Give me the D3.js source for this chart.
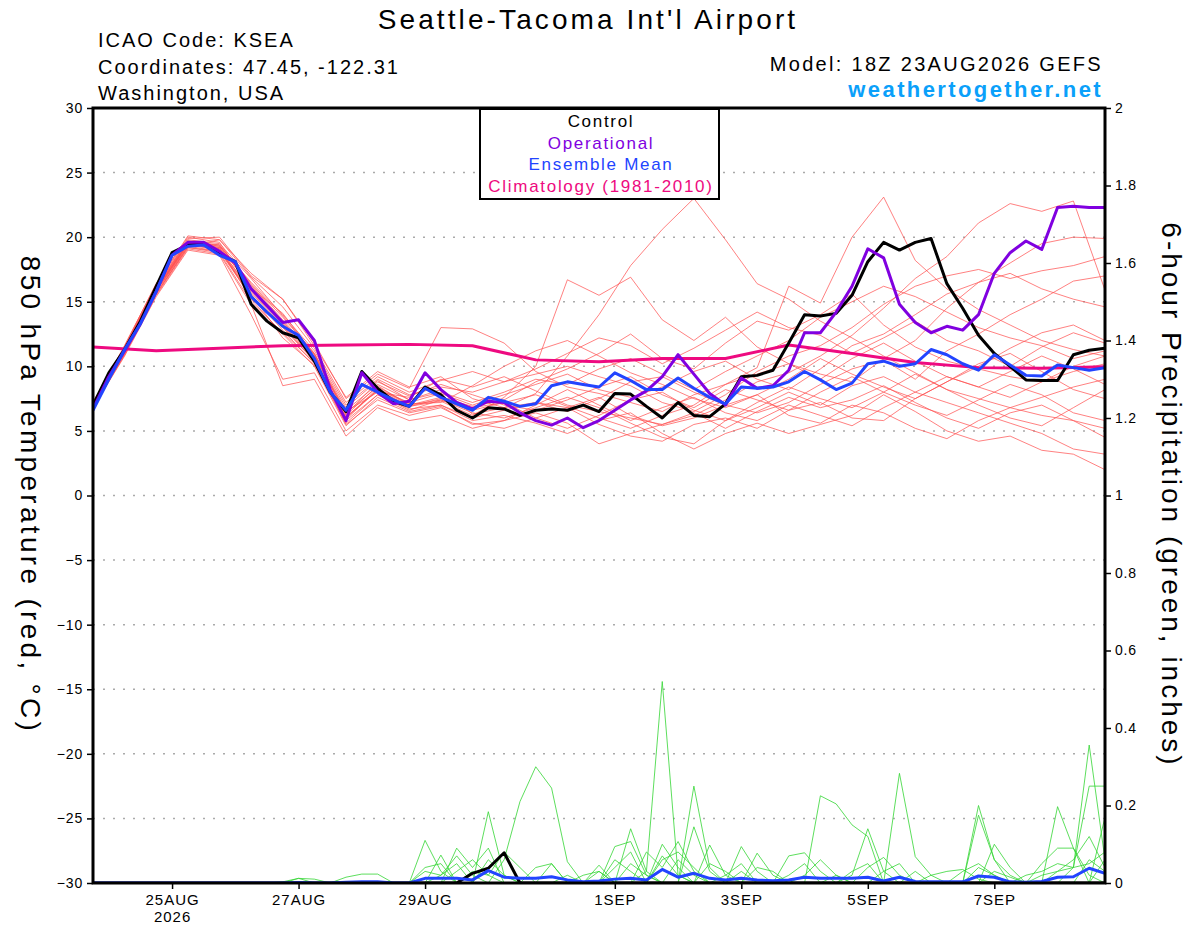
<!DOCTYPE html>
<html>
<head>
<meta charset="utf-8">
<script src="https://cdn.jsdelivr.net/npm/d3@7"></script>
<style>
  body { margin: 0; background: #fff; }
  text { font-family: "Liberation Sans", Arial, Helvetica, sans-serif; }
</style>
</head>
<body>
<svg id="chart" width="1200" height="927"></svg>
<script>
// ---- data ----
// run start 18Z 23AUG2026, 6-hourly steps out to 384 h
const runStart = Date.UTC(2026, 7, 23, 18);
const dateTicks = ["2026-08-25", "2026-08-27", "2026-08-29", "2026-09-01", "2026-09-03", "2026-09-05", "2026-09-07"];
const tempTicks = [-30, -25, -20, -15, -10, -5, 0, 5, 10, 15, 20, 25, 30];
const precipTicks = [0, 0.2, 0.4, 0.6, 0.8, 1, 1.2, 1.4, 1.6, 1.8, 2];

// 850 hPa temperature, 6-hourly
const controlTemp = [7.0, 9.5, 11.3, 13.5, 16.2, 18.8, 19.4, 19.5, 18.7, 18.1,
  14.8, 13.5, 12.6, 12.2, 10.4, 8.0, 6.5, 9.6, 8.3, 7.3,
  6.9, 8.4, 7.8, 6.6, 6.0, 6.8, 6.7, 6.2, 6.6, 6.7,
  6.6, 7.0, 6.5, 7.9, 7.85, 6.9, 6.0, 7.2, 6.2, 6.1,
  7.1, 9.2, 9.3, 9.7, 11.8, 14.0, 13.9, 14.1, 15.5, 18.1,
  19.6, 19.0, 19.6, 19.9, 16.4, 14.5, 12.4, 11.0, 10.0, 8.95,
  8.9, 8.9, 10.9, 11.25, 11.4];
const operationalTemp = [6.7, 9.2, 11.2, 13.3, 15.8, 18.6, 19.6, 19.6, 18.9, 18.0,
  16.0, 14.7, 13.4, 13.6, 12.0, 8.2, 5.8, 9.5, 8.0, 7.1,
  7.3, 9.5, 8.2, 7.2, 6.7, 7.3, 7.2, 6.4, 5.8, 5.45,
  6.0, 5.25, 5.8, 6.6, 7.4, 8.1, 9.2, 10.9, 9.4, 7.9,
  7.0, 9.1, 8.3, 8.5, 9.7, 12.6, 12.6, 14.2, 16.2, 19.1,
  18.4, 14.8, 13.4, 12.6, 13.1, 12.8, 14.0, 17.2, 18.8, 19.7,
  19.05, 22.3, 22.4, 22.3, 22.3];
const meanTemp = [6.6, 9.0, 11.3, 13.3, 15.8, 18.6, 19.3, 19.4, 18.6, 18.1,
  15.4, 14.2, 13.1, 12.4, 10.6, 8.0, 6.6, 8.6, 8.0, 7.4,
  6.9, 8.3, 7.6, 7.1, 6.6, 7.6, 7.3, 6.9, 7.1, 8.5,
  8.8, 8.6, 8.4, 9.5, 8.9, 8.2, 8.2, 9.1, 8.3, 7.6,
  7.1, 8.4, 8.3, 8.4, 8.8, 9.6, 8.95, 8.2, 8.7, 10.2,
  10.4, 10.0, 10.2, 11.3, 10.9, 10.2, 9.7, 10.9, 10.1, 9.3,
  9.25, 10.1, 9.9, 9.7, 9.9];
// climatology, daily
const climTemp = [11.5, 11.2, 11.4, 11.6, 11.65, 11.7, 11.6, 10.5, 10.35, 10.6, 10.6, 11.65, 11.0, 10.3, 9.9, 9.85, 9.97];

// ensemble members, 12-hourly
const memberTemps = [
  [7.1,11.5,16.2,19.8,19.5,16.8,13.9,11.0,6.8,8.9,7.4,8.2,6.3,6.8,7.9,10.8,14.0,17.8,20.6,23.0,19.8,16.4,15.2,13.5,12.2,10.8,9.5,8.2,7.5,6.8,6.2,5.8,5.2],
  [6.9,11.0,15.6,19.3,19.8,17.2,15.2,11.8,7.5,9.4,8.3,13.0,12.9,11.8,9.6,8.4,7.9,7.2,6.5,7.8,8.6,9.9,16.2,14.9,20.0,23.1,18.2,16.0,14.4,13.2,12.0,11.3,10.8],
  [7.0,11.3,16.0,19.5,19.0,15.5,12.8,10.2,5.9,8.2,6.9,7.3,6.2,7.6,10.0,16.7,15.5,16.9,13.6,12.0,13.8,11.5,10.2,9.4,8.8,10.6,12.0,14.5,16.5,18.0,19.5,20.0,19.9],
  [7.2,11.6,16.4,20.0,19.6,16.0,13.4,10.8,6.5,8.0,7.6,9.0,8.4,9.2,8.1,7.0,6.5,6.0,5.5,6.2,7.4,8.8,9.5,10.8,12.4,14.5,16.8,18.5,21.1,22.6,22.0,22.8,15.9],
  [6.8,10.8,15.4,19.0,18.6,14.0,9.0,9.5,5.0,7.0,6.2,6.8,5.6,5.2,6.0,6.8,5.5,4.6,4.2,5.5,6.0,5.2,6.6,7.2,6.0,5.8,7.5,8.8,10.2,11.0,9.6,8.2,7.5],
  [7.1,11.4,16.1,19.7,19.3,16.5,14.0,11.2,7.0,9.0,7.8,8.4,8.0,8.8,9.4,10.0,9.2,8.5,7.2,6.5,7.8,9.6,10.8,11.6,13.0,14.8,16.2,17.0,17.5,16.8,17.4,17.8,18.5],
  [6.9,11.1,15.8,19.4,19.2,15.2,12.5,10.0,5.4,7.6,6.5,7.0,5.8,6.2,5.6,4.8,5.8,6.4,4.8,3.6,4.8,5.6,4.8,5.5,6.2,7.8,6.5,5.0,4.2,4.6,3.5,3.2,2.0],
  [7.0,11.2,15.9,19.5,19.4,16.3,13.6,10.9,6.2,8.5,7.0,7.6,6.9,7.4,8.8,9.8,11.0,12.5,10.6,9.8,11.8,13.5,12.8,14.0,15.6,13.2,11.5,10.4,9.8,9.2,8.8,9.6,10.2],
  [7.2,11.5,16.3,19.9,20.0,17.0,15.2,11.6,7.6,9.6,8.4,9.2,7.5,6.8,7.2,6.5,7.5,8.8,9.2,8.0,7.0,6.4,7.2,8.6,9.8,10.5,9.0,11.2,12.5,14.0,15.2,16.6,17.0],
  [6.8,10.9,15.5,19.1,18.7,14.8,8.5,9.0,4.6,6.8,5.8,6.2,5.2,5.8,6.4,5.6,4.0,4.8,5.5,6.4,5.2,6.5,7.6,6.8,7.4,8.5,7.2,6.0,5.2,6.4,7.0,5.8,4.5],
  [7.0,11.3,16.0,19.6,19.1,15.8,13.2,10.5,6.0,8.2,7.2,7.9,7.0,7.8,8.6,9.4,8.2,7.6,8.4,9.6,10.4,9.0,8.2,9.8,11.6,12.5,14.0,15.6,16.5,17.2,16.0,15.2,14.6],
  [6.9,11.0,15.7,19.2,18.9,15.4,13.0,10.4,5.8,7.8,6.6,7.4,6.4,6.0,6.8,7.6,6.8,5.6,4.5,4.0,5.8,7.2,8.4,7.5,6.8,8.0,9.4,8.2,7.0,6.0,5.4,6.8,8.2],
  [7.1,11.4,16.1,19.6,19.2,16.2,13.5,10.7,6.4,8.4,7.1,7.2,8.5,10.0,11.2,12.0,10.8,9.5,8.6,7.5,6.8,7.8,9.0,10.6,9.4,8.4,7.5,8.8,10.0,11.4,12.6,13.2,12.0],
  [7.0,11.2,15.9,19.5,19.1,15.9,13.3,10.6,6.1,8.1,6.9,7.5,6.8,7.2,6.0,5.2,6.2,7.4,8.0,6.6,5.8,6.8,8.0,7.0,8.5,9.2,8.0,7.2,6.4,5.6,4.8,3.6,3.2],
  [7.2,11.6,16.4,20.1,19.8,16.9,14.6,11.4,7.2,9.2,8.0,8.9,9.6,8.8,9.8,11.0,12.2,11.6,10.2,11.4,12.8,14.2,13.0,12.4,11.0,12.2,13.5,12.0,11.2,10.0,11.5,12.6,11.8],
  [6.9,11.1,15.8,19.3,18.9,15.6,12.2,10.1,5.6,7.8,6.7,7.0,6.0,6.6,7.2,6.8,7.6,6.2,5.4,6.0,7.0,7.8,6.2,5.6,7.0,6.4,5.2,4.4,5.8,6.8,7.6,8.4,9.0],
  [7.0,11.3,16.0,19.5,19.3,16.1,14.1,10.9,6.6,8.6,7.4,8.0,7.2,8.0,9.0,8.6,9.8,10.6,9.4,8.2,9.6,10.8,12.0,13.8,15.0,16.2,15.4,14.2,13.0,12.2,11.6,10.6,11.2],
  [7.1,11.4,16.2,19.7,19.4,16.4,13.8,11.0,6.3,8.8,7.7,8.6,7.8,7.0,6.6,7.4,8.4,9.2,7.8,6.8,8.2,7.4,6.6,8.0,9.2,8.0,7.0,6.2,7.4,8.6,7.8,6.4,5.8],
  [6.8,10.9,15.6,19.2,18.8,15.0,12.6,10.3,5.5,7.4,6.4,6.9,5.5,5.8,7.0,8.2,7.0,5.8,6.8,7.6,6.4,5.8,7.0,6.2,5.4,6.8,8.0,9.2,8.4,7.6,8.8,10.0,10.8],
  [7.0,11.2,15.9,19.4,19.0,15.7,13.1,10.4,6.0,8.3,7.0,7.4,6.6,7.2,7.8,6.9,6.0,5.2,6.2,7.0,8.6,9.4,10.2,9.0,10.6,11.8,10.4,9.2,8.4,9.6,10.8,9.8,8.6]
];

// 6-hour precipitation (inches), 6-hourly
const controlPrecip = [0,0,0,0,0, 0,0,0,0,0, 0,0,0,0,0, 0,0,0,0,0,
  0,0,0,0,.025, .038,.078,0,0,0, 0,0,0,0,0, 0,0,0,0,0,
  0,0,0,0,0, 0,0,0,0,0, 0,0,0,0,0, 0,0,0,0,0, 0,0,0,0,0];
const meanPrecip = [0,0,0,0,0, 0,0,0,0,0, 0,0,0,.001,0, 0,.002,.003,.003,0,
  0,.012,.012,.012,.008, .032,.015,.012,.012,.016, .008,.003,.005,.01,.012, .008,.035,.015,.025,.012,
  .008,.012,.008,.006,.008, .015,.012,.012,.012,.015, .005,.015,.004,.003,.003, .003,.018,.015,.003,.002,
  .004,.015,.016,.038,.025];
const memberPrecips = [
  [0,0,0,0,0, 0,0,0,0,0, 0,0,0,.012,0, 0,0,0,0,0, 0,.11,.03,0,0, 0,0,0,0,0, 0,0,.046,0,0, 0,0,0,0,.098, .02,0,0,0,0, 0,0,0,0,0, 0,0,0,0,0, 0,.2,.06,0,0, 0,0,0,0,0],
  [0,0,0,0,0, 0,0,0,0,0, 0,0,0,0,0, 0,.015,.023,.023,0, 0,0,.072,0,0, .184,.02,0,0,0, 0,0,0,0,.14, .03,0,0,0,0, 0,.094,.03,0,0, 0,0,0,0,0, 0,0,0,0,0, 0,0,.10,.04,0, 0,0,0,0,0],
  [0,0,0,0,0, 0,0,0,0,0, 0,0,0,0,0, 0,0,0,0,0, 0,0,0,.09,.04, .09,0,0,0,0, 0,0,0,.094,.107, .02,0,0,0,0, 0,0,0,0,0, 0,0,0,0,0, 0,0,0,0,0, 0,.175,.06,.02,0, 0,0,0,0,.06],
  [0,0,0,0,0, 0,0,0,0,0, 0,0,0,0,0, 0,0,0,0,0, 0,.04,.05,0,0, .06,.02,0,0,0, 0,0,0,0,0, .03,.52,.02,0,0, 0,0,0,0,0, 0,0,0,.02,.14, .03,0,0,0,0, 0,0,0,0,0, .05,.09,.09,0,0],
  [0,0,0,0,0, 0,0,0,0,0, 0,0,0,0,0, 0,0,0,0,0, 0,0,0,0,0, 0,.06,.21,.30,.245, .055,0,0,0,0, 0,.10,.04,0,0, 0,0,0,0,0, 0,0,0,0,0, 0,0,0,0,0, 0,0,0,0,0, 0,.197,.09,.02,0],
  [0,0,0,0,0, 0,0,0,0,0, 0,0,0,0,0, 0,0,0,0,0, 0,0,0,0,.03, .02,.08,.04,0,.05, 0,0,.03,0,0, .08,.04,.107,.03,0, 0,0,0,0,0, 0,0,0,0,0, 0,.283,.068,.02,0, 0,0,0,0,0, 0,0,0,0,0],
  [0,0,0,0,0, 0,0,0,0,0, 0,0,0,0,0, 0,0,0,0,0, 0,.03,.02,.05,0, 0,0,0,0,0, 0,0,0,0,0, 0,0,0,.25,.04, 0,0,0,0,.07, .078,.03,0,0,0, 0,0,0,0,0, 0,0,0,0,.02, .03,.05,.04,.356,.06],
  [0,0,0,0,0, 0,0,0,0,0, 0,0,0,0,0, 0,0,0,0,0, 0,0,0,0,0, 0,0,0,.04,.05, 0,0,0,0,0, 0,0,0,.145,.03, 0,0,.077,.02,0, 0,.225,.204,.15,.12, 0,0,0,0,0, 0,0,0,0,0, 0,0,.04,.25,.25],
  [0,0,0,0,0, 0,0,0,0,0, 0,0,0,0,0, 0,0,0,0,0, 0,0,0,0,0, 0,0,0,0,0, 0,0,0,.04,.08, 0,0,.06,.02,0, 0,.03,0,0,0, .02,.06,.02,0,.04, .066,.02,0,0,0, .03,.05,.02,0,0, 0,.03,.06,.12,.04],
  [0,0,0,0,0, 0,0,0,0,0, 0,0,0,0,0, 0,0,0,0,0, 0,0,0,0,0, 0,0,0,0,0, .02,0,0,.06,.03, 0,.06,.08,.04,0, .02,.05,0,0,.02, .05,0,0,0,0, 0,0,0,.02,.03, .035,.01,0,0,0, .02,.03,.04,.05,.08],
  [0,0,0,0,0, 0,0,0,0,0, 0,0,0,0,0, 0,0,0,0,0, 0,0,0,.03,.06, .02,0,0,0,0, 0,.02,.03,0,0, 0,.07,.02,0,.05, .03,0,0,0,0, 0,0,0,.03,.05, 0,0,.03,0,0, 0,.04,.02,0,0, 0,0,0,0,.17],
  [0,0,0,0,0, 0,0,0,0,0, 0,0,.003,.012,.01, 0,0,0,0,0, 0,0,.02,.07,.02, 0,0,0,0,0, 0,0,0,0,.05, .02,0,0,0,0, 0,0,.04,.03,0, 0,0,.02,0,0, .03,.05,0,0,0, 0,0,.03,.015,0, 0,0,0,.06,.03]
];

// ---- chart ----
const svg = d3.select("#chart");
const L = 93, R = 1105, T = 108, B = 883;
const hourMs = 3600 * 1000;
const at = h => new Date(runStart + h * hourMs);

const x = d3.scaleUtc().domain([at(0), at(384)]).range([L, R]);
const yT = d3.scaleLinear().domain([-30, 30]).range([B, T]);
const yP = d3.scaleLinear().domain([0, 2]).range([B, T]);

const hours6 = d3.range(0, 385, 6);
const hours12 = d3.range(0, 385, 12);
const hours24 = d3.range(0, 385, 24);

const lineOf = (hours, yScale) => d3.line()
  .x((d, i) => x(at(hours[i])))
  .y(d => yScale(d));

svg.append("defs").append("clipPath").attr("id", "plotClip")
  .append("rect").attr("x", L).attr("y", T).attr("width", R - L).attr("height", B - T);

// dotted grid at the temperature ticks
svg.append("g").selectAll("line")
  .data(tempTicks.filter(v => v > -30 && v < 30))
  .enter().append("line")
  .attr("x1", L).attr("x2", R)
  .attr("y1", d => yT(d)).attr("y2", d => yT(d))
  .attr("stroke", "#aaa").attr("stroke-width", 1.5)
  .attr("stroke-dasharray", "2,8");

const plot = svg.append("g").attr("clip-path", "url(#plotClip)");

// ensemble members
plot.selectAll(".member")
  .data(memberTemps)
  .enter().append("path")
  .attr("class", "member")
  .attr("d", d => lineOf(hours12, yT)(d))
  .attr("fill", "none").attr("stroke", "#ff4f4f").attr("stroke-width", 0.8).attr("opacity", 0.9);

plot.selectAll(".pmember")
  .data(memberPrecips)
  .enter().append("path")
  .attr("class", "pmember")
  .attr("d", d => lineOf(hours6, yP)(d))
  .attr("fill", "none").attr("stroke", "#33d633").attr("stroke-width", 0.8);

const thick = (data, hours, yScale, color) => plot.append("path")
  .attr("d", lineOf(hours, yScale)(data))
  .attr("fill", "none").attr("stroke", color).attr("stroke-width", 3)
  .attr("stroke-linejoin", "round");

thick(climTemp, hours24, yT, "#ee0a80");
thick(controlPrecip, hours6, yP, "#000");
thick(meanPrecip, hours6, yP, "#2244ff");
thick(controlTemp, hours6, yT, "#000");
thick(operationalTemp, hours6, yT, "#8000e0");
thick(meanTemp, hours6, yT, "#2244ff");

// axes
const tickFont = g => g.selectAll("text").style("font-size", "14px")
  .style("letter-spacing", "0.8px").attr("fill", "#000");

const leftAxis = svg.append("g").attr("transform", `translate(${L},0)`)
  .call(d3.axisLeft(yT).tickValues(tempTicks).tickSize(6).tickPadding(4));
leftAxis.select(".domain").remove();
leftAxis.selectAll("line").attr("stroke-width", 1.5);
tickFont(leftAxis);

const rightAxis = svg.append("g").attr("transform", `translate(${R},0)`)
  .call(d3.axisRight(yP).tickValues(precipTicks).tickSize(6).tickPadding(4)
    .tickFormat(d => String(+d.toFixed(1))));
rightAxis.select(".domain").remove();
rightAxis.selectAll("line").attr("stroke-width", 1.5);
tickFont(rightAxis);

const fmtDay = d3.utcFormat("%-d%b");
const bottomAxis = svg.append("g").attr("transform", `translate(0,${B})`)
  .call(d3.axisBottom(x).tickValues(dateTicks.map(s => new Date(s + "T00:00:00Z")))
    .tickSize(6).tickPadding(5).tickFormat(d => fmtDay(d).toUpperCase()));
bottomAxis.select(".domain").remove();
bottomAxis.selectAll("line").attr("stroke-width", 1.5);
bottomAxis.selectAll("text").style("font-size", "15px").style("letter-spacing", "1px").attr("fill", "#000");
bottomAxis.select(".tick text").clone()
  .attr("dy", "1.85em").text("2026");

// frame
svg.append("rect").attr("x", L).attr("y", T).attr("width", R - L).attr("height", B - T)
  .attr("fill", "none").attr("stroke", "#000").attr("stroke-width", 3);

// axis titles
svg.append("text").attr("transform", "translate(21,495) rotate(90)")
  .attr("text-anchor", "middle").style("font-size", "28px").style("letter-spacing", "3.3px")
  .text("850 hPa Temperature (red, °C)");
svg.append("text").attr("transform", "translate(1162,495) rotate(90)")
  .attr("text-anchor", "middle").style("font-size", "28px").style("letter-spacing", "3px")
  .text("6-hour Precipitation (green, inches)");

// header
svg.append("text").attr("x", 588).attr("y", 29).attr("text-anchor", "middle")
  .style("font-size", "28px").style("letter-spacing", "3.1px").text("Seattle-Tacoma Int'l Airport");
const infoLines = ["ICAO Code: KSEA", "Coordinates: 47.45, -122.31", "Washington, USA"];
svg.append("g").selectAll("text").data(infoLines).enter().append("text")
  .attr("x", 98).attr("y", (d, i) => 47 + i * 26.5)
  .style("font-size", "20px").style("letter-spacing", "2px").text(d => d);
svg.append("text").attr("x", 1103).attr("y", 71).attr("text-anchor", "end")
  .style("font-size", "20px").style("letter-spacing", "2.3px").text("Model: 18Z 23AUG2026 GEFS");
svg.append("text").attr("x", 1103).attr("y", 97).attr("text-anchor", "end")
  .style("font-size", "22px").style("font-weight", "bold").style("letter-spacing", "2.4px")
  .attr("fill", "#0aa0fa").text("weathertogether.net");

// legend
const legendItems = [
  { label: "Control", color: "#000" },
  { label: "Operational", color: "#8000e0" },
  { label: "Ensemble Mean", color: "#2244ff" },
  { label: "Climatology (1981-2010)", color: "#ee0a80" }
];
const legend = svg.append("g");
legend.append("rect").attr("x", 480).attr("y", 109).attr("width", 239).attr("height", 90)
  .attr("fill", "#fff").attr("stroke", "#000").attr("stroke-width", 2);
legend.selectAll("text").data(legendItems).enter().append("text")
  .attr("x", 601).attr("y", (d, i) => 127 + i * 21.7)
  .attr("text-anchor", "middle").style("font-size", "17px").style("letter-spacing", "1.7px")
  .attr("fill", d => d.color).text(d => d.label);
</script>
</body>
</html>
